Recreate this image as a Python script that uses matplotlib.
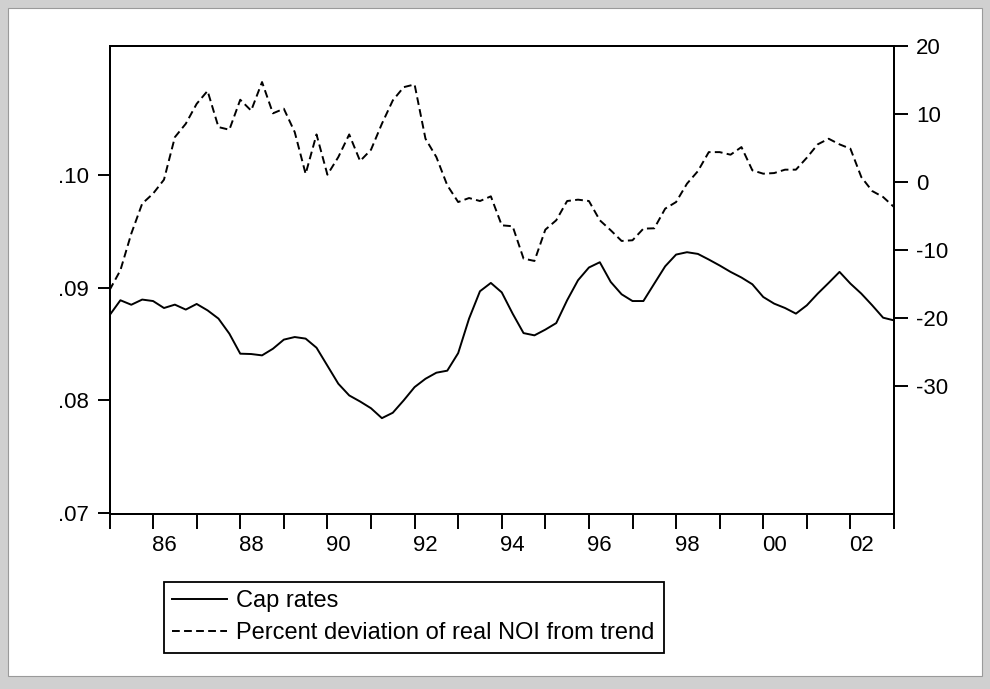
import numpy as np
import matplotlib.pyplot as plt
from matplotlib.patches import Rectangle

plt.rcParams['font.family'] = ['Liberation Sans', 'DejaVu Sans']
plt.rcParams['font.size'] = 16
plt.rcParams['axes.unicode_minus'] = False

# Quarterly data, 1985Q1 - 2003Q1
start_year = 1985
cap_rates = [
    0.08756, 0.08890, 0.08850, 0.08896, 0.08883, 0.08821, 0.08851, 0.08807,
    0.08857, 0.08800, 0.08727, 0.08593, 0.08415, 0.08412, 0.08400, 0.08459,
    0.08540, 0.08563, 0.08549, 0.08468, 0.08308, 0.08148, 0.08044, 0.07990,
    0.07930, 0.07842, 0.07890, 0.08000, 0.08118, 0.08192, 0.08246, 0.08264,
    0.08420, 0.08727, 0.08970, 0.09044, 0.08960, 0.08771, 0.08598, 0.08578,
    0.08629, 0.08687, 0.08890, 0.09068, 0.09181, 0.09228, 0.09053, 0.08943,
    0.08883, 0.08883, 0.09038, 0.09192, 0.09296, 0.09317, 0.09302, 0.09252,
    0.09199, 0.09142, 0.09092, 0.09032, 0.08919, 0.08860, 0.08821, 0.08771,
    0.08845, 0.08949, 0.09044, 0.09142, 0.09038, 0.08949, 0.08845, 0.08735,
    0.08711,
]
noi_dev = [
    -15.9, -12.97, -7.58, -3.17, -1.7, 0.35, 6.6, 8.57,
    11.5, 13.4, 8.08, 7.69, 12.1, 10.5, 14.7, 10.1,
    10.78, 7.34, 1.2, 7.0, 1.08, 3.67, 7.0, 3.09,
    4.75, 8.57, 12.0, 13.95, 14.35, 6.37, 3.67, -0.48,
    -2.94, -2.35, -2.79, -2.1, -6.36, -6.5, -11.25, -11.6,
    -7.0, -5.62, -2.79, -2.59, -2.79, -5.62, -7.09, -8.66,
    -8.56, -6.85, -6.8, -3.91, -2.94, -0.24, 1.6, 4.4,
    4.4, 4.02, 5.14, 1.72, 1.23, 1.32, 1.82, 1.82,
    3.58, 5.54, 6.37, 5.54, 4.9, 0.73, -1.32, -2.2,
    -3.67,
]
year_labels = ['86', '88', '90', '92', '94', '96', '98', '00', '02']
label_years = [1986, 1988, 1990, 1992, 1994, 1996, 1998, 2000, 2002]
left_ticks = [0.07, 0.08, 0.09, 0.10]
left_labels = ['.07', '.08', '.09', '.10']
right_ticks = [-30, -20, -10, 0, 10, 20]

t = start_year + np.arange(len(cap_rates)) / 4.0

fig = plt.figure(figsize=(9.9, 6.89), dpi=100, facecolor='#d0d0d0')
fig.patches.append(Rectangle((8 / 990, 13 / 689), 974 / 990, 668 / 689,
                             transform=fig.transFigure, facecolor='white',
                             edgecolor='#9a9a9a', lw=0.8, zorder=-10))

ax = fig.add_axes([109.5 / 990, 1 - 514 / 689, 784.5 / 990, 468 / 689])
ax2 = ax.twinx()

lw = 1.4
ax.plot(t, cap_rates, color='black', lw=lw, label='Cap rates')
ax2.plot(t, noi_dev, color='black', lw=lw, dashes=(4, 2.2),
         label='Percent deviation of real NOI from trend')

ax.set_xlim(1985, 2003)
ax.set_ylim(0.0699, 0.1115)
ax2.set_ylim(-48.8, 20)

# year ticks without labels, labels offset by a quarter
ax.set_xticks(np.arange(1985, 2004))
ax.set_xticklabels([])
ax.set_xticks([y + 0.25 for y in label_years], year_labels, minor=True)
ax.tick_params(axis='x', which='major', direction='out', length=11, width=1.4)
ax.tick_params(axis='x', which='minor', length=0, pad=15)

ax.set_yticks(left_ticks, left_labels)
ax.tick_params(axis='y', direction='out', length=9, width=1.4, pad=6)
ax2.set_yticks(right_ticks)
ax2.tick_params(axis='y', direction='out', length=10, width=1.4, pad=6)

for a in (ax, ax2):
    for s in a.spines.values():
        s.set_linewidth(1.4)

h1, l1 = ax.get_legend_handles_labels()
h2, l2 = ax2.get_legend_handles_labels()
leg = fig.legend(h1 + h2, l1 + l2, loc='upper left',
                 bbox_to_anchor=(163.5 / 990, 1 - 581.5 / 689),
                 fancybox=False, edgecolor='black', framealpha=1,
                 prop={'size': 17},
                 handlelength=2.3, handletextpad=0.4, borderpad=0.38,
                 labelspacing=0.4, borderaxespad=0)
leg.get_frame().set_linewidth(1.3)

fig.savefig('out.png', dpi=100, facecolor=fig.get_facecolor())
